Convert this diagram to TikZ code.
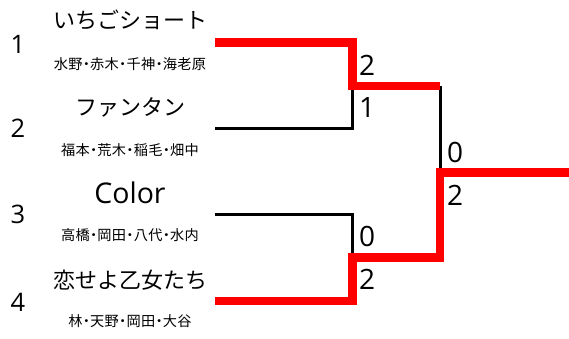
\documentclass[tikz,border=0pt]{standalone}
\usepackage{fontspec}
\setmainfont{Open Sans}
\newfontfamily\jpfont{Noto Sans CJK JP}
\newfontfamily\jpnarrow[RawFeature=+palt, LetterSpace=2]{Noto Sans CJK JP}
\definecolor{winred}{RGB}{255,0,0}
\begin{document}
\begin{tikzpicture}[x=1pt,y=-1pt,
  seed/.style={font=\fontsize{25.5}{25.5}\selectfont, inner sep=0pt},
  team/.style={font=\jpfont\fontsize{22}{22}\selectfont, inner sep=0pt},
  latinteam/.style={font=\fontsize{28.5}{28.5}\selectfont, inner sep=0pt},
  member/.style={font=\jpnarrow\fontsize{14.2}{14.2}\selectfont, inner sep=0pt},
  score/.style={font=\fontsize{28}{28}\selectfont, inner sep=0pt},
  win/.style={draw=winred, line width=8.5pt, line join=miter, line cap=butt},
  lose/.style={draw=black, line width=3pt, line join=miter, line cap=butt}]
\useasboundingbox (0,0) rectangle (569,338);
% seeds
\node[seed] (s1) at (18,44) {1};
\node[seed] (s2) at (18,128) {2};
\node[seed] (s3) at (18,214) {3};
\node[seed] (s4) at (18,302) {4};
% teams
\node[team] (n1) at (130,20) {いちごショート};
\node[member] (m1) at (130,64) {水野・赤木・千神・海老原};
\node[team] (n2) at (130,107) {ファンタン};
\node[member] (m2) at (130,150) {福本・荒木・稲毛・畑中};
\node[latinteam] (n3) at (130,193) {Color};
\node[member] (m3) at (130,235) {高橋・岡田・八代・水内};
\node[team] (n4) at (130,280) {恋せよ乙女たち};
\node[member] (m4) at (130,321) {林・天野・岡田・大谷};
% bracket coordinates
\coordinate (e1) at (215,42.5);
\coordinate (e2) at (215,128.5);
\coordinate (e3) at (215,214.5);
\coordinate (e4) at (215,301);
\coordinate (j1) at (352.3,86);
\coordinate (j2) at (352.3,257.5);
\coordinate (jf) at (440,172.5);
\coordinate (champ) at (569,172.5);
% losers
\draw[lose] (e2) -| (j1);
\draw[lose] (e3) -| (j2);
\draw[lose] (j1 -| jf) -- (jf);
% winners
\draw[win] (e1) -| (j1) -- (j1 -| jf);
\draw[win] (e4) -| (j2) -| (jf) -- (champ);
% scores
\node[score] (r1a) at (367,65) {2};
\node[score] (r1b) at (367,108) {1};
\node[score] (r2a) at (367,236) {0};
\node[score] (r2b) at (367,279) {2};
\node[score] (r3a) at (455,152) {0};
\node[score] (r3b) at (455,195) {2};
\end{tikzpicture}
\end{document}
